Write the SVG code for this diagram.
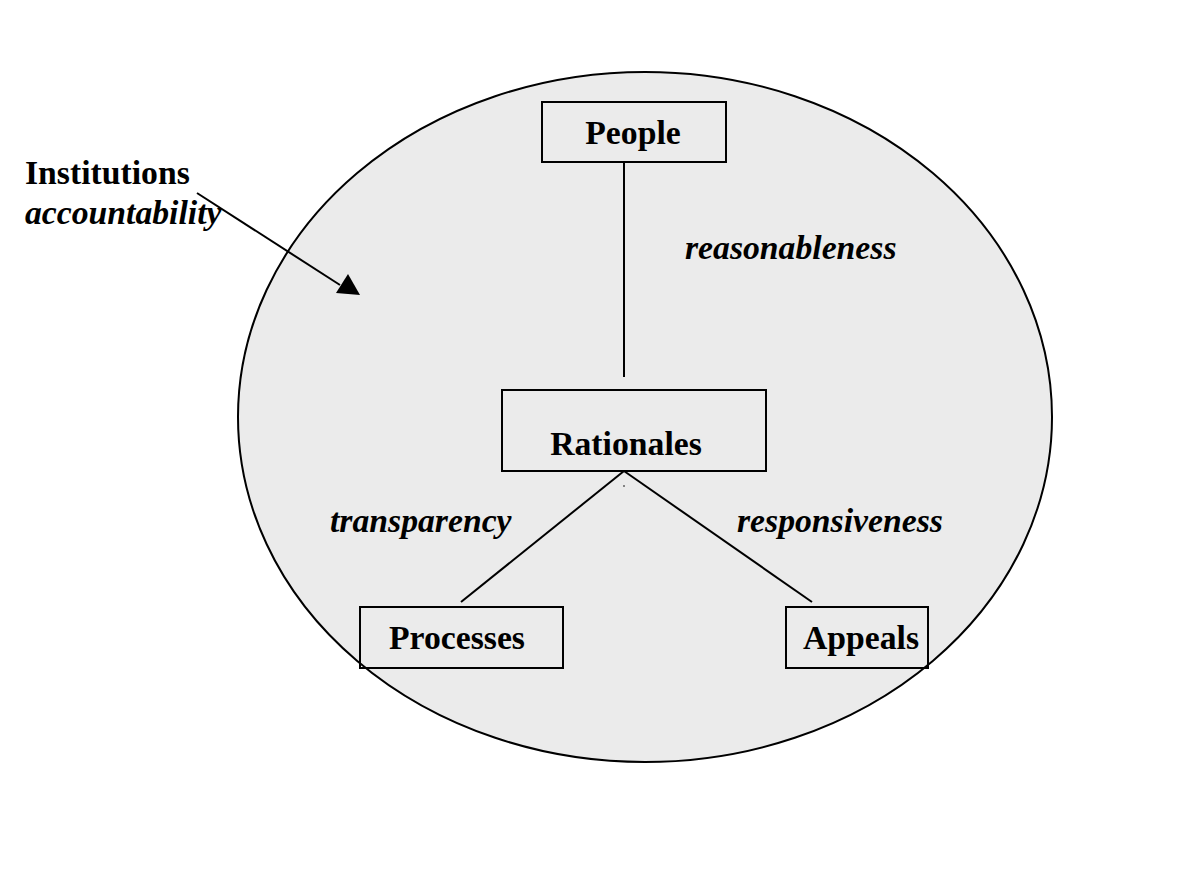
<svg xmlns="http://www.w3.org/2000/svg" width="1198" height="877" viewBox="0 0 1198 877">
<style>
.t{font-family:"Liberation Serif","Times New Roman",serif;font-weight:bold;font-size:33.7px;fill:#000}
.i{font-style:italic}
.box{fill:none;stroke:#000;stroke-width:2}
.ln{stroke:#000;stroke-width:2;fill:none}
</style>
<rect width="1198" height="877" fill="#fff"/>
<g id="institutions">
<ellipse cx="645" cy="417" rx="407" ry="345" fill="#ebebeb" stroke="#000" stroke-width="2"/>
</g>
<g id="connectors">
<line class="ln" x1="624" y1="162" x2="624" y2="377"/>
<line class="ln" x1="624" y1="471" x2="461" y2="602"/>
<line class="ln" x1="624" y1="471" x2="812" y2="602"/>
<circle cx="624" cy="486" r="0.8" fill="#000"/>
<line class="ln" x1="197" y1="193" x2="340" y2="285"/>
<polygon points="360,295 336,293 348,274" fill="#000"/>
</g>
<g id="label-institutions">
<text class="t" x="25" y="184">Institutions</text>
<text class="t i" x="25" y="224">accountability</text>
</g>
<g id="people">
<rect class="box" x="542" y="102" width="184" height="60"/>
<text class="t" x="633" y="144" text-anchor="middle">People</text>
</g>
<g id="rationales">
<rect class="box" x="502" y="390" width="264" height="81"/>
<text class="t" x="626" y="455" text-anchor="middle">Rationales</text>
</g>
<g id="processes">
<rect class="box" x="360" y="607" width="203" height="61"/>
<text class="t" x="457" y="649" text-anchor="middle">Processes</text>
</g>
<g id="appeals">
<rect class="box" x="786" y="607" width="142" height="61"/>
<text class="t" x="861" y="649" text-anchor="middle">Appeals</text>
</g>
<g id="edge-labels">
<text class="t i" x="685" y="259">reasonableness</text>
<text class="t i" x="330" y="532">transparency</text>
<text class="t i" x="737" y="532">responsiveness</text>
</g>
</svg>
